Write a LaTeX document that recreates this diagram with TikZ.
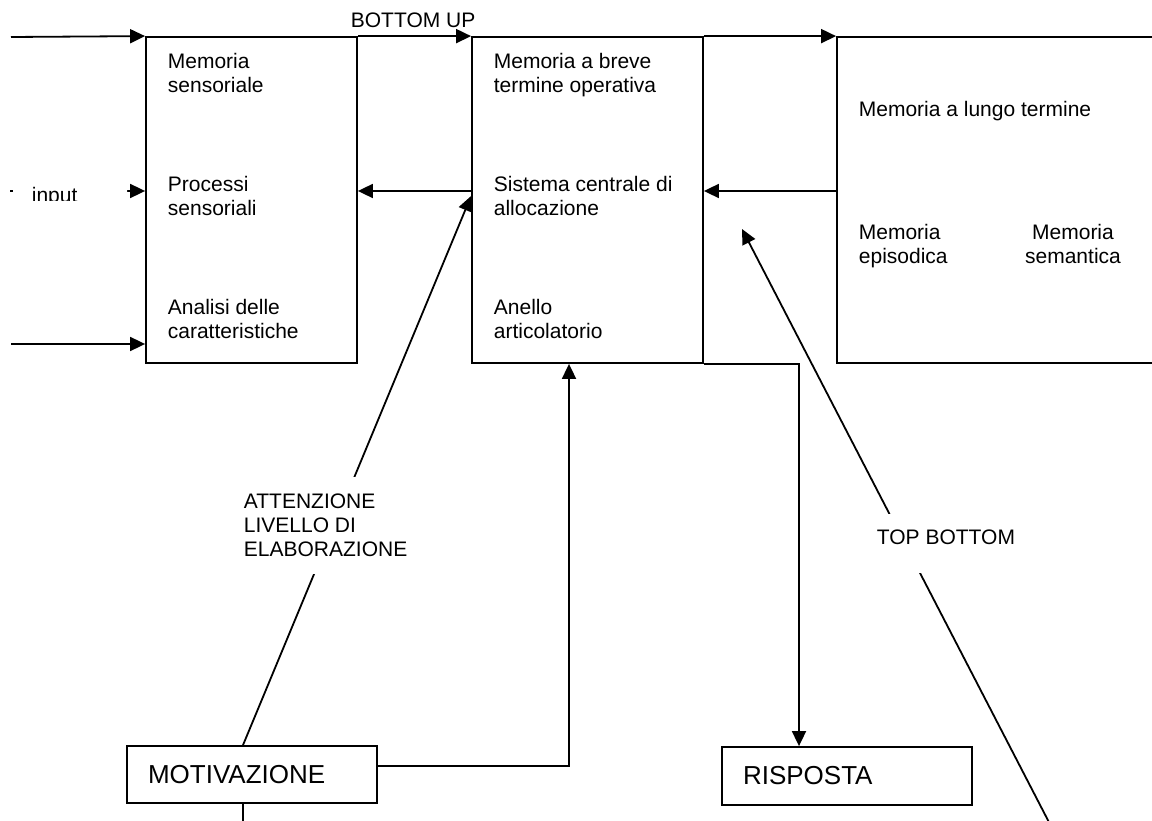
\documentclass[tikz,border=0pt]{standalone}
\usepackage{fontspec}
\setmainfont{Liberation Sans}
\usetikzlibrary{arrows.meta}
\begin{document}
\begin{tikzpicture}[x=1pt,y=-1pt,line width=1.8pt,
  box/.style={draw, rectangle, inner sep=0pt},
  txt/.style={anchor=north west, inner sep=0pt, align=left, font=\fontsize{21}{24}\selectfont},
  big/.style={font=\fontsize{26}{30}\selectfont},
  arr/.style={-{Triangle[length=15pt,width=14pt]}}
]
\useasboundingbox (0,0) rectangle (1152,821);
\clip (0,0) rectangle (1152,821);

% boxes
\node[box, minimum width=211pt, minimum height=326pt] (sens) at (251.5,200) {};
\node[box, minimum width=231pt, minimum height=326pt] (stm) at (587.5,200) {};
\node[box, minimum width=333pt, minimum height=326pt] (ltm) at (1003.5,200) {};
\node[box, big, minimum width=250pt, minimum height=57pt, text width=208pt, inner xsep=21pt, align=left] (mot) at (252,774.5) {MOTIVAZIONE};
\node[box, big, minimum width=250pt, minimum height=58pt, text width=208pt, inner xsep=21pt, align=left] (risp) at (847,776) {RISPOSTA};

% texts
\node[txt] (t1) at (167,52) {Memoria\\sensoriale};
\node[txt] (t2) at (167,175) {Processi\\sensoriali};
\node[txt] (t3) at (167,298) {Analisi delle\\caratteristiche};
\node[txt] (t4) at (493,52) {Memoria a breve\\termine operativa};
\node[txt] (t5) at (493,175) {Sistema centrale di\\allocazione};
\node[txt] (t6) at (493,298) {Anello\\articolatorio};
\node[txt] (t7) at (858,100) {Memoria a lungo termine};
\node[txt] (t8) at (858,223) {Memoria\\episodica};
\node[txt, anchor=north, align=center] (t9) at (1073,223) {Memoria\\semantica};
\node[txt, anchor=base west] (bu) at (350,28) {BOTTOM UP};

% coordinates
\coordinate (midrow) at (0,191);
\coordinate (lin1) at (11,37);
\coordinate (lin2) at (10,191);
\coordinate (lin3) at (11,344);
\coordinate (rx) at (799,0);
\coordinate (ax) at (569,766);
\coordinate (att) at (243,0);
\coordinate (atty) at (0,196);
\coordinate (motdown) at (243,830);
\coordinate (tbs) at (1053,830);
\coordinate (tbe) at (742,229);

% connectors
\draw[arr] (lin1) -- (sens.north west);
\draw[arr] (lin2) -- (sens.west |- lin2);
\draw[arr] (lin3) -- (sens.west |- lin3);
\draw[arr] (sens.north east) -- (stm.north west);
\draw[arr] (stm.north east) -- (ltm.north west);
\draw[arr] (ltm.west |- midrow) -- (stm.east |- midrow);
\draw[arr] (stm.west |- midrow) -- (sens.east |- midrow);
\draw[arr] (stm.south east) -| (rx |- risp.north);
\draw[arr] (mot.east |- ax) -| (stm.south -| ax);
\draw[arr] (mot.north -| att) -- (stm.west |- atty);
\draw (mot.south -| att) -- (motdown);
\draw[arr] (tbs) -- (tbe);

% labels covering connectors
\node[txt, fill=white, inner xsep=5pt, inner ysep=17pt] (attlbl) at (238,476) {ATTENZIONE\\LIVELLO DI\\ELABORAZIONE};
\node[anchor=base west, fill=white, inner xsep=5pt, inner ysep=0pt, text height=30pt, text depth=29pt, font=\fontsize{21}{24}\selectfont] (tblbl) at (871,544) {TOP BOTTOM};
\begin{scope}
\clip (12,150) rectangle (127,200.7);
\node[txt, fill=white, text width=77pt, inner xsep=19pt, inner ysep=20pt] (inp) at (12,166) {input};
\end{scope}
\end{tikzpicture}
\end{document}
